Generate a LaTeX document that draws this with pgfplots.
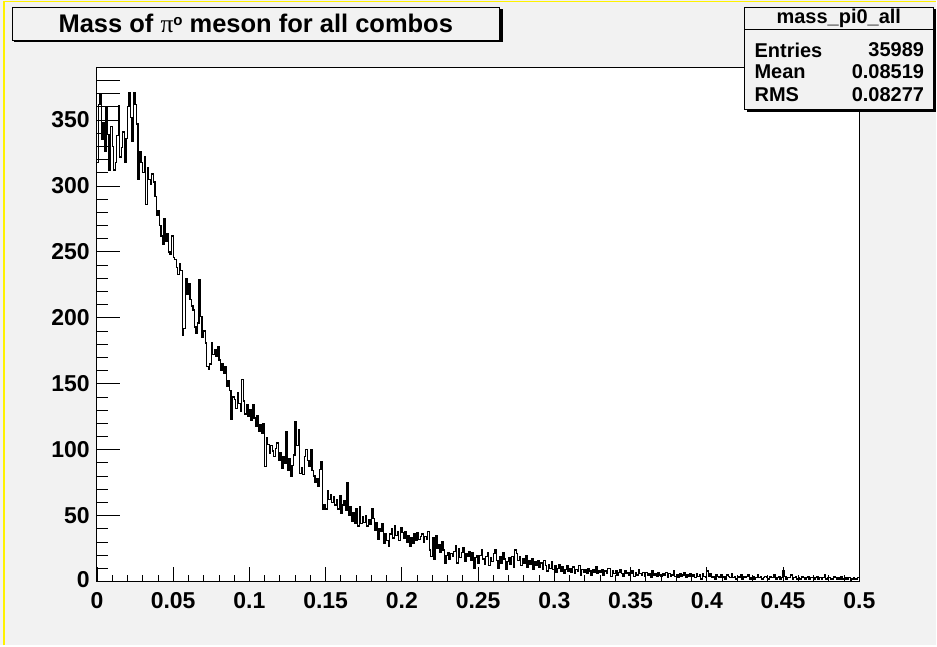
\documentclass[border=0pt]{standalone}
\usepackage{pgfplots}
\pgfplotsset{compat=1.18}
\usepackage{pgfplotstable}
\usepackage{fontspec}
\setmainfont{Liberation Sans}
\newfontfamily\symf{Liberation Serif}
\definecolor{rootbg}{RGB}{242,242,242}
\pgfplotstableread[row sep=\\]{
y\\
318\\362\\369\\335\\348\\326\\360\\339\\312\\345\\
330\\312\\318\\338\\361\\322\\329\\341\\318\\336\\
360\\371\\352\\334\\371\\362\\347\\305\\326\\318\\
310\\322\\286\\314\\305\\301\\309\\303\\292\\278\\
281\\270\\262\\256\\275\\258\\264\\250\\248\\262\\
246\\244\\238\\233\\241\\236\\187\\192\\230\\218\\
226\\214\\209\\206\\193\\188\\196\\229\\201\\185\\
190\\181\\163\\161\\165\\181\\172\\176\\171\\178\\
168\\160\\165\\158\\163\\148\\152\\145\\123\\140\\
138\\131\\143\\135\\129\\153\\137\\127\\134\\125\\
130\\122\\134\\124\\118\\126\\114\\119\\112\\120\\
87\\109\\104\\97\\103\\99\\95\\101\\105\\92\\
98\\86\\95\\90\\114\\84\\93\\80\\88\\96\\
121\\103\\115\\82\\86\\81\\95\\100\\92\\87\\
100\\84\\80\\75\\78\\72\\85\\91\\55\\58\\
55\\69\\62\\66\\60\\64\\58\\62\\55\\65\\
52\\58\\61\\54\\75\\50\\57\\46\\52\\44\\
55\\42\\57\\44\\49\\45\\50\\42\\47\\43\\
55\\48\\39\\45\\32\\40\\38\\44\\29\\36\\
31\\27\\36\\40\\33\\42\\35\\38\\31\\41\\
37\\33\\38\\30\\35\\27\\33\\29\\36\\31\\
37\\32\\34\\36\\30\\34\\32\\38\\24\\19\\
33\\17\\35\\25\\28\\22\\30\\24\\14\\20\\
22\\17\\21\\19\\23\\27\\14\\25\\18\\22\\
26\\15\\21\\19\\23\\16\\22\\10\\18\\20\\
14\\20\\24\\17\\13\\19\\22\\12\\18\\15\\
21\\24\\16\\10\\19\\14\\22\\17\\9\\15\\
18\\13\\19\\11\\24\\21\\16\\19\\12\\17\\
14\\20\\11\\16\\13\\17\\9\\15\\12\\16\\
11\\14\\9\\16\\12\\8\\13\\10\\15\\9\\
12\\7\\10\\13\\8\\11\\6\\9\\12\\8\\
10\\7\\11\\6\\9\\8\\12\\5\\9\\7\\
9\\6\\10\\8\\5\\9\\7\\11\\6\\8\\
7\\9\\5\\8\\6\\10\\10\\4\\8\\6\\
8\\5\\7\\9\\6\\4\\8\\6\\7\\5\\
6\\8\\4\\7\\5\\9\\6\\5\\7\\4\\
7\\5\\6\\3\\8\\5\\6\\4\\7\\5\\
4\\6\\5\\7\\3\\6\\4\\5\\8\\4\\
5\\3\\6\\4\\5\\7\\3\\5\\4\\6\\
4\\5\\3\\6\\4\\5\\2\\6\\4\\3\\
8\\4\\6\\3\\4\\2\\5\\4\\3\\5\\
3\\4\\2\\5\\4\\3\\6\\3\\4\\2\\
4\\3\\5\\2\\4\\3\\4\\5\\2\\3\\
4\\2\\3\\5\\3\\4\\2\\3\\4\\3\\
2\\4\\3\\3\\5\\2\\3\\4\\2\\3\\
8\\4\\2\\3\\3\\5\\2\\3\\4\\2\\
3\\2\\4\\3\\2\\3\\4\\2\\3\\3\\
2\\3\\4\\2\\3\\2\\3\\5\\2\\3\\
3\\2\\2\\4\\3\\2\\3\\2\\4\\2\\
2\\3\\2\\3\\1\\2\\3\\2\\2\\3\\
3\\
}\histdata
\begin{document}
\begin{tikzpicture}[x=1pt,y=1pt]
\fill[rootbg] (0,0) rectangle (937,646);
\draw[yellow, line width=1.5pt] (4,0) -- (4,644.5) -- (937,644.5);
\begin{axis}[
  at={(97pt,64pt)}, anchor=south west,
  width=763pt, height=514pt, scale only axis,
  xmin=0, xmax=0.5, ymin=0, ymax=389.5,
  axis background/.style={fill=white},
  axis line style={black, line width=0.9pt},
  tick align=inside,
  xtick pos=lower, ytick pos=left,
  xtick={0,0.05,0.1,0.15,0.2,0.25,0.3,0.35,0.4,0.45,0.5},
  xticklabels={0,0.05,0.1,0.15,0.2,0.25,0.3,0.35,0.4,0.45,0.5},
  ytick={0,50,100,150,200,250,300,350},
  yticklabels={{\raisebox{5pt}{0}},50,100,150,200,250,300,350},
  minor x tick num=4, minor y tick num=4,
  extra y ticks={360,370,380}, extra y tick labels={},
  extra y tick style={/pgfplots/major tick length=11pt},
  xtick style={/pgfplots/major tick length=15pt, /pgfplots/minor tick length=7pt, black, line width=0.8pt},
  ytick style={/pgfplots/major tick length=23pt, /pgfplots/minor tick length=11pt, black, line width=0.8pt},
  xticklabel style={font=\bfseries\fontsize{23}{23}\selectfont, inner sep=0pt, yshift=-11pt},
  yticklabel style={font=\bfseries\fontsize{23}{23}\selectfont, inner sep=0pt, xshift=-7pt},
  scaled x ticks=false, scaled y ticks=false,
  clip=true,
]
\addplot[const plot mark left, black, line width=1.3pt] table[x expr=\coordindex*0.001, y=y] {\histdata};
\end{axis}
% title box
\fill[black] (14.5,603.5) rectangle (503,636.5);
\filldraw[fill=rootbg, draw=black, line width=0.9pt] (12,606) rectangle (500,639);
\node[font=\bfseries\fontsize{25.5}{25.5}\selectfont] at (256,622.5) {Mass of {\symf\mdseries π}\raisebox{0.55ex}{\fontsize{15}{15}\selectfont o} meson for all combos};
% stats box
\fill[black] (747.5,533.5) rectangle (937,636.5);
\filldraw[fill=rootbg, draw=black, line width=0.9pt] (745,536) rectangle (934,639);
\draw[black, line width=0.9pt] (745,616.5) -- (934,616.5);
\begin{scope}[every node/.style={font=\bfseries\fontsize{20}{20}\selectfont, inner sep=0pt}]
\node at (839.5,627.5) {mass\_pi0\_all};
\node[anchor=west] at (755,596) {Entries};
\node[anchor=east] at (925,596) {35989};
\node[anchor=west] at (755,574) {Mean};
\node[anchor=east] at (925,574) {0.08519};
\node[anchor=west] at (755,551) {RMS};
\node[anchor=east] at (925,551) {0.08277};
\end{scope}
\end{tikzpicture}
\end{document}
